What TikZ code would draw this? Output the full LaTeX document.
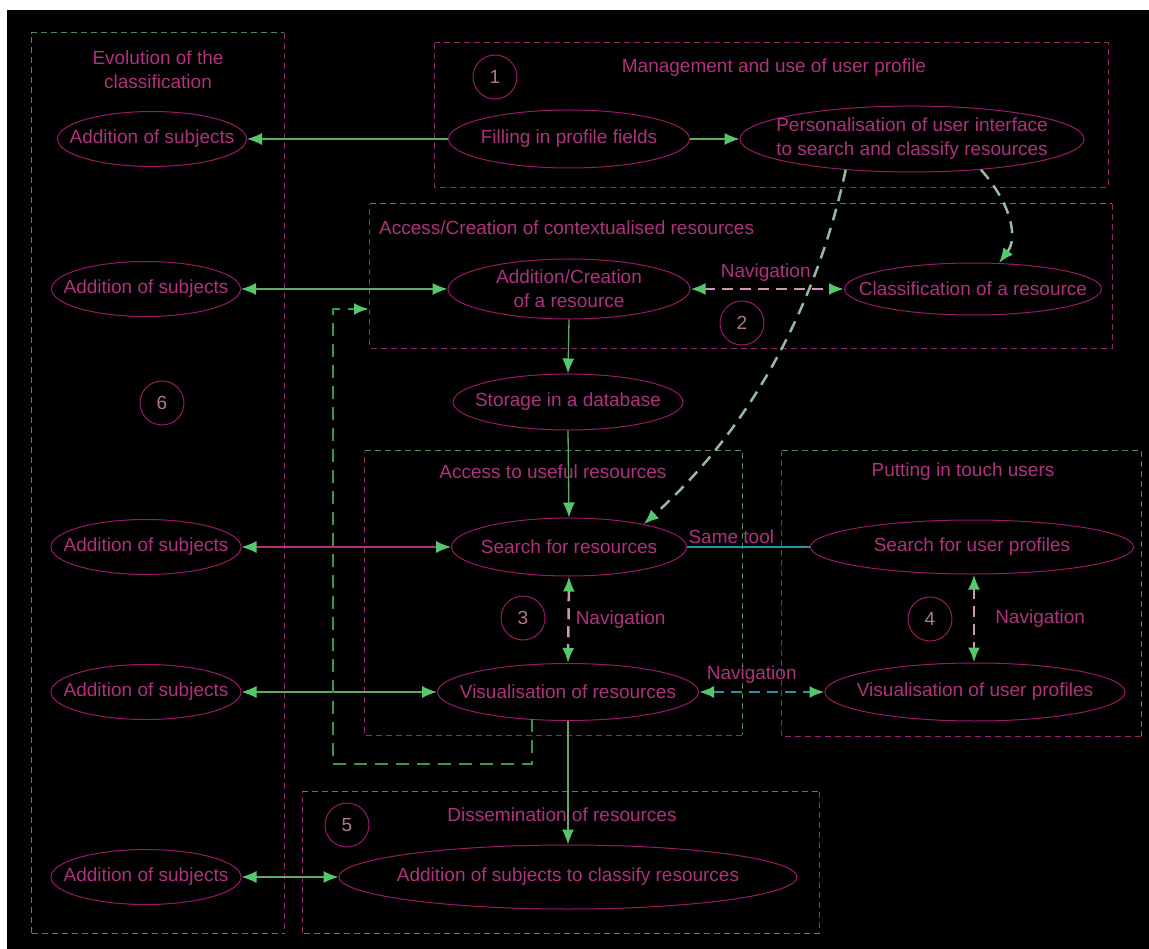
\documentclass[tikz,border=0pt]{standalone}
\usepackage{fontspec}
\setmainfont{Liberation Sans}
\usetikzlibrary{shapes.geometric,arrows.meta}
\definecolor{mag}{RGB}{155,25,105}
\definecolor{txtc}{RGB}{175,50,125}
\definecolor{numc}{RGB}{175,120,150}
\definecolor{boxm}{RGB}{150,40,110}
\definecolor{boxg}{RGB}{80,135,90}
\definecolor{lg}{RGB}{95,170,100}
\definecolor{lm}{RGB}{175,50,125}
\definecolor{ag}{RGB}{85,200,110}
\definecolor{navp}{RGB}{205,150,180}
\definecolor{curvc}{RGB}{150,185,160}
\definecolor{tealc}{RGB}{35,150,170}
\definecolor{fbg}{RGB}{55,150,80}
\newcommand\myfs{\fontsize{19}{24}\selectfont}
\tikzset{
 ell/.style={ellipse, draw=mag, line width=1pt, inner xsep=-30pt, inner ysep=-3pt, text=txtc, font=\myfs, align=center},
 lab/.style={text=txtc, font=\myfs, align=center, inner sep=2pt},
 num/.style={circle, draw=mag, line width=1pt, minimum size=44pt, inner sep=0pt, text=numc, font=\myfs},
 boxn/.style={rectangle, draw=none, inner sep=0pt},
 bm/.style={draw=boxm, line width=1.2pt, dash pattern=on 6pt off 4pt},
 bg/.style={draw=boxg, line width=1.2pt, dash pattern=on 6pt off 4pt},
 sl/.style={draw=lg, line width=1.3pt},
 slm/.style={draw=lm, line width=1.3pt},
 nav/.style={draw=navp, line width=2.5pt, dash pattern=on 11pt off 7pt},
 curv/.style={draw=curvc, line width=2.5pt, dash pattern=on 12pt off 8pt},
 tl/.style={draw=tealc, line width=1.8pt},
 tld/.style={draw=tealc, line width=2.5pt, dash pattern=on 11pt off 7pt},
 fb/.style={draw=fbg, line width=2.8pt, dash pattern=on 13pt off 8pt},
}
\begin{document}
\begin{tikzpicture}[x=1pt,y=-1pt,>={Latex[length=15pt,width=12pt,color=ag]}]
\useasboundingbox (0,0) rectangle (1149,949);
\fill[white] (0,0) rectangle (1149,949);
\fill[black] (7,10) rectangle (1149,949);

% group boxes
\node[boxn, minimum width=252pt, minimum height=900pt] (evo) at (158,483) {};
\node[boxn, minimum width=673pt, minimum height=144pt] (mgmt) at (771.5,115) {};
\node[boxn, minimum width=742pt, minimum height=144pt] (acbox) at (741,276) {};
\node[boxn, minimum width=377pt, minimum height=284pt] (useful) at (553.5,593) {};
\node[boxn, minimum width=359pt, minimum height=285pt] (touch) at (961.5,593.5) {};
\node[boxn, minimum width=517pt, minimum height=141pt] (diss) at (561,862.5) {};

\draw[bg] (evo.south west) -- (evo.north west) -- (evo.north east);
\draw[bm] (evo.north east) -- (evo.south east);
\draw[bg] (evo.south west) -- (evo.south east);
\draw[bm] (mgmt.north west) rectangle (mgmt.south east);
\draw[bg] (acbox.north west) -- (acbox.north east);
\draw[bm] (acbox.north east) -- (acbox.south east) -- (acbox.south west) -- (acbox.north west);
\draw[bg] (useful.north west) -- (useful.north east) -- (useful.south east);
\draw[bm] (useful.south east) -- (useful.south west) -- (useful.north west);
\draw[bg] (touch.north west) -- (touch.north east) -- (touch.south east);
\draw[bm] (touch.south east) -- (touch.south west) -- (touch.north west);
\draw[bg] (diss.north west) -- (diss.north east);
\draw[bm] (diss.north east) -- (diss.south east);
\draw[bg] (diss.south east) -- (diss.south west);
\draw[bm] (diss.south west) -- (diss.north west);

% titles
\node[lab] (evot) at (158,70) {Evolution of the\\classification};
\node[lab] (mgmtt) at (774,68) {Management and use of user profile};
\node[lab, anchor=west] (acct) at (377,228) {Access/Creation of contextualised resources};
\node[lab] (usefult) at (553,472) {Access to useful resources};
\node[lab] (toucht) at (963,472) {Putting in touch users};
\node[lab] (disst) at (562,815) {Dissemination of resources};

% numbers
\node[num] (n1) at (495,77) {1};
\node[num] (n2) at (742,323) {2};
\node[num] (n3) at (523,618) {3};
\node[num] (n4) at (930,619) {4};
\node[num] (n5) at (347,825) {5};
\node[num] (n6) at (162,403) {6};

% ellipses
\node[ell, minimum width=189pt, minimum height=55pt] (as1) at (152,139) {Addition of subjects};
\node[ell, minimum width=189pt, minimum height=55pt] (as2) at (146,289) {Addition of subjects};
\node[ell, minimum width=190pt, minimum height=55pt] (as3) at (146,547) {Addition of subjects};
\node[ell, minimum width=190pt, minimum height=55pt] (as4) at (146,692) {Addition of subjects};
\node[ell, minimum width=190pt, minimum height=55pt] (as5) at (146,877) {Addition of subjects};
\node[ell, minimum width=241pt, minimum height=58pt] (fill) at (569,139) {Filling in profile fields};
\node[ell, minimum width=344pt, minimum height=66pt] (pers) at (912,139) {Personalisation of user interface\\to search and classify resources};
\node[ell, minimum width=242pt, minimum height=60pt] (addc) at (569,289) {Addition/Creation\\of a resource};
\node[ell, minimum width=257pt, minimum height=52pt] (classif) at (973,289) {Classification of a resource};
\node[ell, minimum width=230pt, minimum height=56pt] (stor) at (568,402) {Storage in a database};
\node[ell, minimum width=235pt, minimum height=58pt] (search) at (569,547) {Search for resources};
\node[ell, minimum width=261pt, minimum height=57pt] (vis) at (568,692) {Visualisation of resources};
\node[ell, minimum width=323pt, minimum height=54pt] (suprof) at (972,547) {Search for user profiles};
\node[ell, minimum width=300pt, minimum height=58pt] (vuprof) at (975,692) {Visualisation of user profiles};
\node[ell, minimum width=458pt, minimum height=64pt] (addcl) at (568,877) {Addition of subjects to classify resources};

% solid connectors
\draw[sl,->] (fill.west) -- (as1.east);
\draw[sl,->] (fill.east) -- (pers.west);
\draw[sl,<->] (as2.east) -- (addc.west);
\draw[slm,<->] (as3.east) -- (search.west);
\draw[sl,<->] (as4.east) -- (vis.west);
\draw[sl,<->] (as5.east) -- (addcl.west);
\draw[sl,->] (addc.south) -- (stor.north);
\draw[sl,->] (stor.south) -- (search.north);
\draw[sl,->] (vis.south) -- (addcl.north);

% navigation connectors
\draw[nav,<->] (addc.east) -- node[lab, above=4pt, pos=0.49] {Navigation} (classif.west);
\draw[nav,<->] (search.south) -- node[lab, right=4pt] {Navigation} (vis.north);
\draw[nav,<->] (suprof.south -| 974,0) -- node[lab, right=18pt] {Navigation} (vuprof.north -| 974,0);
\draw[tl] (search.east) -- node[lab, above, pos=0.36] {Same tool} (suprof.west);
\draw[tld,<->] (vis.east) -- node[lab, above=5pt, pos=0.42] {Navigation} (vuprof.west);

% curved dashed connectors
\draw[curv,->] (pers.-24) .. controls (1012,205) and (1018,238) .. (classif.45);
\draw[curv,->] (pers.205) .. controls (820,290) and (760,420) .. (search.17);

% feedback loop
\coordinate (fbs) at (532,719);
\coordinate (fbe) at (369,309);
\draw[fb,->] (fbs) -- (532,764) -- (333,764) -- (333,309) -- (fbe);
\end{tikzpicture}
\end{document}
